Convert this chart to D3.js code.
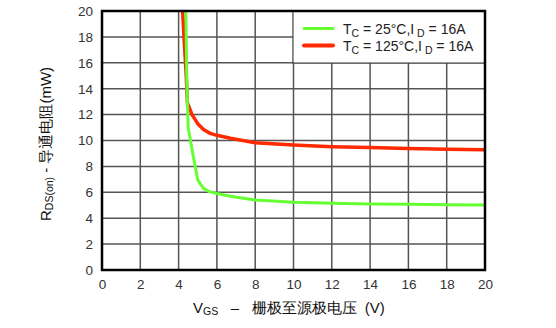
<!DOCTYPE html>
<html>
<head>
<meta charset="utf-8">
<script src="https://cdn.jsdelivr.net/npm/d3@7"></script>
<style>
  html, body { margin: 0; padding: 0; background: #fff; }
  svg { display: block; font-family: "Liberation Sans", Arial, sans-serif; }
</style>
</head>
<body>
<svg id="chart" width="556" height="328"></svg>
<script>
// R_DS(on) vs V_GS
var vgs25 = [4.38, 4.42, 4.46, 4.5, 4.75, 5.0, 5.3, 5.6, 6.0, 6.7, 8, 10, 12, 14, 16, 18, 20];
var rds25 = [20, 15.5, 12.9, 11.0, 8.9, 6.95, 6.3, 6.05, 5.9, 5.7, 5.4, 5.23, 5.15, 5.1, 5.07, 5.04, 5.02];
var vgs125 = [4.21, 4.3, 4.4, 4.46, 4.7, 5.0, 5.3, 5.65, 6.0, 6.7, 8, 10, 12, 14, 16, 18, 20];
var rds125 = [20, 17.5, 15, 12.9, 12.0, 11.3, 10.85, 10.55, 10.4, 10.17, 9.83, 9.65, 9.52, 9.45, 9.38, 9.33, 9.29];
var xTicks = [0, 2, 4, 6, 8, 10, 12, 14, 16, 18, 20];
var yTicks = [0, 2, 4, 6, 8, 10, 12, 14, 16, 18, 20];

(function () {
    'use strict';

    var svg = d3.select('#chart');
    var pl = 102, pr = 485, pt = 11, pb = 270;

    var x = d3.scaleLinear().domain([0, 20]).range([pl, pr]);
    var y = d3.scaleLinear().domain([0, 20]).range([pb, pt]);

    // grid
    var grid = svg.append('g').attr('stroke', '#555').attr('stroke-width', 1.5);
    xTicks.slice(1, -1).forEach(function (t) {
        grid.append('line').attr('x1', x(t)).attr('x2', x(t)).attr('y1', pt).attr('y2', pb);
    });
    yTicks.slice(1, -1).forEach(function (t) {
        grid.append('line').attr('x1', pl).attr('x2', pr).attr('y1', y(t)).attr('y2', y(t));
    });

    // curves
    var line = d3.line().x(function (d) { return x(d[0]); }).y(function (d) { return y(d[1]); });
    svg.append('path')
        .datum(d3.zip(vgs125, rds125))
        .attr('d', line).attr('fill', 'none')
        .attr('stroke', '#ff2a00').attr('stroke-width', 3.5).attr('stroke-linejoin', 'round');
    svg.append('path')
        .datum(d3.zip(vgs25, rds25))
        .attr('d', line).attr('fill', 'none')
        .attr('stroke', '#66ff33').attr('stroke-width', 3).attr('stroke-linejoin', 'round');

    // legend box
    var lg = svg.append('g');
    lg.append('rect').attr('x', 293).attr('y', pt).attr('width', pr - 293).attr('height', 52)
        .attr('fill', '#fff').attr('stroke', '#333').attr('stroke-width', 1);
    var legendItems = [
        { color: '#66ff33', w: 3, t: '25°C', yy: 28.5 },
        { color: '#ff2a00', w: 4, t: '125°C', yy: 45.5 }
    ];
    legendItems.forEach(function (d) {
        lg.append('line').attr('x1', 304).attr('x2', 333).attr('y1', d.yy).attr('y2', d.yy)
            .attr('stroke', d.color).attr('stroke-width', d.w).attr('stroke-linecap', 'round');
        var tx = lg.append('text').attr('x', 343).attr('y', d.yy + 5)
            .attr('font-size', 14).attr('fill', '#222');
        tx.append('tspan').text('T');
        tx.append('tspan').attr('font-size', 10.5).attr('dy', 3).text('C');
        tx.append('tspan').attr('dy', -3).text(' = ' + d.t + ',I');
        tx.append('tspan').attr('font-size', 10.5).attr('dy', 3).text(' D');
        tx.append('tspan').attr('dy', -3).text(' = 16A');
    });

    // frame
    svg.append('rect').attr('x', pl).attr('y', pt).attr('width', pr - pl).attr('height', pb - pt)
        .attr('fill', 'none').attr('stroke', '#000').attr('stroke-width', 2.5);

    // tick labels via d3 axes, domain/ticks hidden
    var xAxis = svg.append('g').attr('transform', 'translate(0,' + pb + ')')
        .call(d3.axisBottom(x).tickValues(xTicks).tickSize(0).tickPadding(9));
    var yAxis = svg.append('g').attr('transform', 'translate(' + pl + ',0)')
        .call(d3.axisLeft(y).tickValues(yTicks).tickSize(0).tickPadding(9));
    [xAxis, yAxis].forEach(function (a) {
        a.select('.domain').remove();
        a.selectAll('text').attr('font-size', 13.5).attr('fill', '#333')
            .attr('font-family', '"Liberation Sans", Arial, sans-serif');
    });

    // x title
    var xt = svg.append('text').attr('x', 193).attr('y', 313).attr('font-size', 15).attr('fill', '#111');
    xt.append('tspan').text('V');
    xt.append('tspan').attr('font-size', 10.5).attr('dy', 2).text('GS');
    xt.append('tspan').attr('dy', -2).attr('xml:space', 'preserve').text('   –   栅极至源极电压  (V)');

    // y title
    var yt = svg.append('text').attr('transform', 'translate(51,221) rotate(-90)')
        .attr('font-size', 15).attr('fill', '#111');
    yt.append('tspan').text('R');
    yt.append('tspan').attr('font-size', 10.5).attr('dy', 2).text('DS(on)');
    yt.append('tspan').attr('dy', -2).attr('xml:space', 'preserve').text(' - 导通电阻(mW)');
})();
</script>
</body>
</html>
